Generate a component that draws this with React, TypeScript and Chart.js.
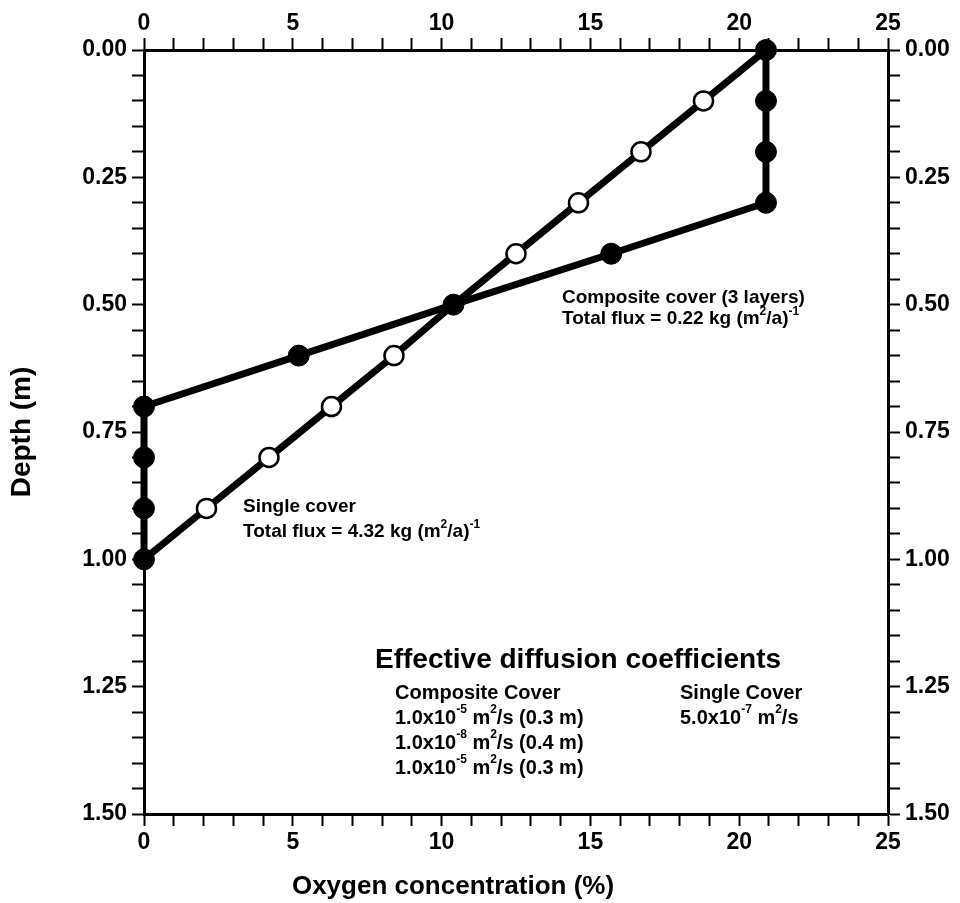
import React, { useEffect, useRef } from 'react';
import { Chart, registerables } from 'chart.js';

Chart.register(...registerables);

// ---- data ----
const depths = [0, 0.1, 0.2, 0.3, 0.4, 0.5, 0.6, 0.7, 0.8, 0.9, 1.0];
const compositeO2 = [20.9, 20.9, 20.9, 20.9, 15.7, 10.4, 5.2, 0, 0, 0, 0];
const singleO2 = [20.9, 18.8, 16.7, 14.6, 12.5, 10.4, 8.4, 6.3, 4.2, 2.1, 0];
const singleOpenMarker = [false, true, true, true, true, false, true, true, true, true, false];
const xLabelTicks = [0, 5, 10, 15, 20, 25];
const yLabelTicks = [0, 0.25, 0.5, 0.75, 1.0, 1.25, 1.5];

const FONT = "'Liberation Sans', Arial, Helvetica, sans-serif";

type Seg = { t: string; sup?: boolean };

function drawRich(ctx: CanvasRenderingContext2D, segs: Seg[], x: number, y: number, size: number) {
  let cx = x;
  ctx.textAlign = 'left';
  ctx.textBaseline = 'middle';
  for (const s of segs) {
    const fs = s.sup ? Math.round(size * 0.62) : size;
    ctx.font = `bold ${fs}px ${FONT}`;
    const dy = s.sup ? -size * 0.4 : 0;
    ctx.fillText(s.t, cx, y + dy);
    cx += ctx.measureText(s.t).width;
  }
}

const annotationPlugin = {
  id: 'annotations',
  afterDraw(chart: any) {
    const ctx: CanvasRenderingContext2D = chart.ctx;
    ctx.save();
    ctx.fillStyle = '#000';
    // curve labels
    drawRich(ctx, [{ t: 'Composite cover (3 layers)' }], 562, 298, 19);
    drawRich(ctx, [{ t: 'Total flux = 0.22 kg (m' }, { t: '2', sup: true }, { t: '/a)' }, { t: '-1', sup: true }], 562, 319, 19);
    drawRich(ctx, [{ t: 'Single cover' }], 243, 507, 19);
    drawRich(ctx, [{ t: 'Total flux = 4.32 kg (m' }, { t: '2', sup: true }, { t: '/a)' }, { t: '-1', sup: true }], 243, 532, 19);
    // coefficient block
    drawRich(ctx, [{ t: 'Effective diffusion coefficients' }], 375, 660, 28);
    drawRich(ctx, [{ t: 'Composite Cover' }], 395, 693, 20);
    drawRich(ctx, [{ t: '1.0x10' }, { t: '-5', sup: true }, { t: ' m' }, { t: '2', sup: true }, { t: '/s (0.3 m)' }], 395, 718, 20);
    drawRich(ctx, [{ t: '1.0x10' }, { t: '-8', sup: true }, { t: ' m' }, { t: '2', sup: true }, { t: '/s (0.4 m)' }], 395, 743, 20);
    drawRich(ctx, [{ t: '1.0x10' }, { t: '-5', sup: true }, { t: ' m' }, { t: '2', sup: true }, { t: '/s (0.3 m)' }], 395, 768, 20);
    drawRich(ctx, [{ t: 'Single Cover' }], 680, 693, 20);
    drawRich(ctx, [{ t: '5.0x10' }, { t: '-7', sup: true }, { t: ' m' }, { t: '2', sup: true }, { t: '/s' }], 680, 718, 20);
    // x axis title
    ctx.font = `bold 26px ${FONT}`;
    ctx.textAlign = 'center';
    ctx.textBaseline = 'middle';
    ctx.fillText('Oxygen concentration (%)', 453, 887);
    ctx.restore();
  },
};

const isMajorY = (v: number) => yLabelTicks.some((t) => Math.abs(t - v) < 1e-6);

function makeX(position: 'top' | 'bottom', size: number) {
  return {
    type: 'linear' as const,
    position,
    min: 0,
    max: 25,
    afterFit: (s: any) => {
      s.height = size;
    },
    ticks: {
      stepSize: 1,
      autoSkip: false,
      maxRotation: 0,
      padding: position === 'top' ? 1 : 3,
      color: '#000',
      font: { family: FONT, size: 23, weight: 'bold' as const },
      callback: (v: any) => (xLabelTicks.includes(Number(v)) ? String(v) : ''),
    },
    grid: {
      drawOnChartArea: false,
      drawTicks: true,
      tickLength: 12,
      tickWidth: 2,
      tickColor: '#000',
      color: '#000',
    },
    border: { display: true, color: '#000', width: 3 },
  };
}

function makeY(position: 'left' | 'right', size: number, withTitle: boolean) {
  return {
    type: 'linear' as const,
    position,
    reverse: true,
    min: 0,
    max: 1.5,
    afterFit: (s: any) => {
      s.width = size;
    },
    title: {
      display: withTitle,
      text: 'Depth (m)',
      color: '#000',
      font: { family: FONT, size: 28, weight: 'bold' as const },
      padding: { top: 5, bottom: 0 },
    },
    ticks: {
      stepSize: 0.05,
      autoSkip: false,
      padding: 5,
      color: '#000',
      font: { family: FONT, size: 23, weight: 'bold' as const },
      callback: (v: any) => (isMajorY(Number(v)) ? Number(v).toFixed(2) : ''),
    },
    grid: {
      drawOnChartArea: false,
      drawTicks: true,
      tickLength: 12,
      tickWidth: 2,
      tickColor: '#000',
      color: '#000',
    },
    border: { display: true, color: '#000', width: 3 },
  };
}

export default function App() {
  const canvasRef = useRef<HTMLCanvasElement | null>(null);

  useEffect(() => {
    if (!canvasRef.current) return;
    const compositeData = depths.map((d, i) => ({ x: compositeO2[i], y: d }));
    const singleData = depths.map((d, i) => ({ x: singleO2[i], y: d }));
    const chart = new Chart(canvasRef.current, {
      type: 'line',
      data: {
        datasets: [
          {
            label: 'Composite cover (3 layers)',
            data: compositeData,
            xAxisID: 'x',
            yAxisID: 'y',
            borderColor: '#000',
            borderWidth: 7,
            borderJoinStyle: 'round',
            borderCapStyle: 'round',
            pointRadius: 10.5,
            pointBackgroundColor: '#000',
            pointBorderColor: '#000',
            pointBorderWidth: 1,
            tension: 0,
            fill: false,
            clip: false as any,
          },
          {
            label: 'Single cover',
            data: singleData,
            xAxisID: 'x',
            yAxisID: 'y',
            borderColor: '#000',
            borderWidth: 7,
            borderJoinStyle: 'round',
            borderCapStyle: 'round',
            pointRadius: singleOpenMarker.map((o) => (o ? 9.5 : 0)),
            pointBackgroundColor: '#fff',
            pointBorderColor: '#000',
            pointBorderWidth: 2.5,
            tension: 0,
            fill: false,
            clip: false as any,
          },
        ],
      },
      options: {
        animation: false,
        responsive: false,
        devicePixelRatio: 1,
        layout: { padding: 0 },
        plugins: {
          legend: { display: false },
          tooltip: { enabled: false },
          title: { display: false },
        },
        scales: {
          x: makeX('bottom', 89),
          x2: makeX('top', 50),
          y: makeY('left', 144, true),
          y2: makeY('right', 72, false),
        } as any,
      },
      plugins: [annotationPlugin],
    });
    return () => chart.destroy();
  }, []);

  return (
    <div style={{ position: 'absolute', left: 0, top: 0, width: 960, height: 903, background: '#fff' }}>
      <canvas ref={canvasRef} width={960} height={903} style={{ display: 'block', width: 960, height: 903 }} />
    </div>
  );
}
